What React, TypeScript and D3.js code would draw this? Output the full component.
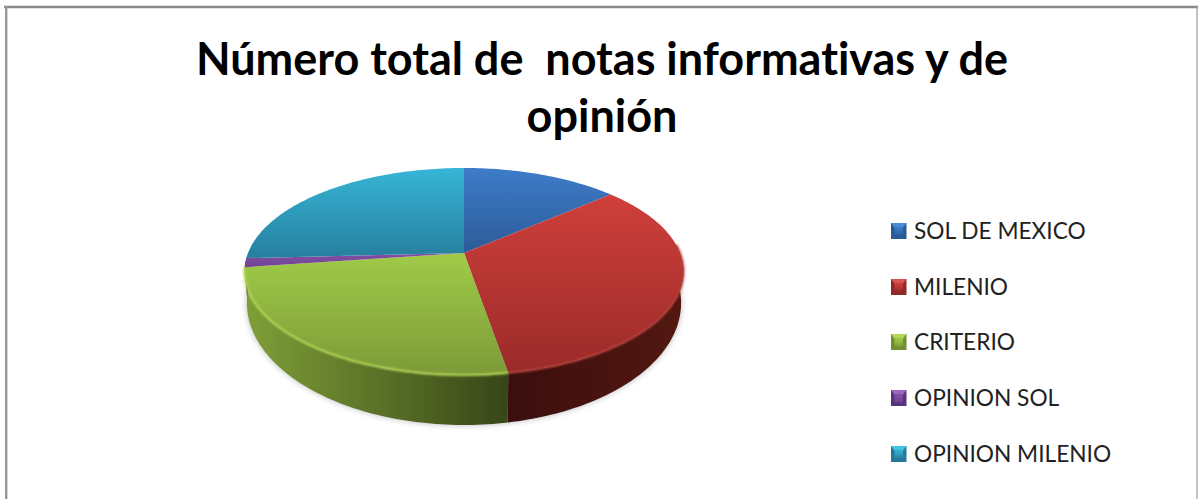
import React from "react";
import * as d3 from "d3";

const categories = ["SOL DE MEXICO", "MILENIO", "CRITERIO", "OPINION SOL", "OPINION MILENIO"];
const shares = [13.7, 33.6, 25.5, 1.4, 25.8];
const titleLines = ["Número total de  notas informativas y de", "opinión"];
const faceTop = ["#3e7cc9", "#cf3f3b", "#a0cb48", "#8550a8", "#36b5d6"];
const faceBottom = ["#2c5b98", "#9a2b29", "#7c9a38", "#6f4390", "#277f9e"];
const keyLight = ["#4a8ad6", "#d9534f", "#b4d95a", "#9a68be", "#45c4e2"];
const keyDark = ["#2a5a94", "#8e2a28", "#71902f", "#57357a", "#227a98"];
const wallOuter = ["#2c5b98", "#521711", "#7f9f38", "#5e3a78", "#277f9e"];
const wallInner = ["#2c5b98", "#3b0e0e", "#374617", "#5e3a78", "#277f9e"];
const legendY = [231, 287, 342, 398, 454];

const W = 1198;
const H = 499;
const TAU = Math.PI * 2;
const tilt = 0.1787;

// Perspective-tilted disc: the top rim and the lower rim have their own apex and spread.
const rimTop = { cx: 464, apex: 253, k: 216, a: 100.2 };
const rimLow = { cx: 464, apex: 281.3, k: 213.6, a: 118 };

type Rim = typeof rimTop;
const project = (rim: Rim, angle: number): [number, number] => {
  const u = Math.sin(angle);
  const v = -Math.cos(angle);
  const w = 1 - tilt * v;
  return [rim.cx + (rim.k * u) / w, rim.apex + (rim.a * v) / w];
};

const sampleArc = (rim: Rim, a0: number, a1: number): [number, number][] => {
  const n = Math.max(2, Math.ceil(Math.abs(a1 - a0) / 0.02));
  return d3.range(n + 1).map((i) => project(rim, a0 + ((a1 - a0) * i) / n));
};

const line = d3.line<[number, number]>().curve(d3.curveLinear);
const pie = d3.pie<number>().sort(null).startAngle(0).endAngle(TAU);
const slices = pie(shares);

// The wall is visible only along the near half of the disc.
const wallStart = (85 / 360) * TAU;
const wallEnd = (268 / 360) * TAU;

const fontStack = "Lato, 'Open Sans', sans-serif";

// Small pillow-style legend swatch: a lit top facet over a darker body.
function LegendKey({ y, index }: { y: number; index: number }) {
  const x0 = 891;
  const x1 = 906.5;
  const y0 = y - 8;
  const y1 = y + 8;
  const inset = 3.5;
  return (
    <g>
      <rect x={x0} y={y0} width={x1 - x0} height={y1 - y0} fill={keyDark[index]} />
      <polygon
        points={`${x0},${y0} ${x1},${y0} ${x1 - inset},${y0 + inset + 1} ${x0 + inset},${y0 + inset + 1}`}
        fill={keyLight[index]}
      />
      <rect
        x={x0 + inset}
        y={y0 + inset + 1}
        width={x1 - x0 - 2 * inset}
        height={y1 - y0 - 2 * inset - 1}
        fill={`url(#key${index})`}
      />
    </g>
  );
}

export default function App() {
  return (
    <svg
      width={W}
      height={H}
      viewBox={`0 0 ${W} ${H}`}
      style={{ position: "absolute", left: 0, top: 0, display: "block", background: "#fff" }}
    >
      <defs>
        <filter id="soft" x="-10%" y="-10%" width="120%" height="120%">
          <feGaussianBlur stdDeviation="3" />
        </filter>
        <filter id="rimGlow" x="-5%" y="-5%" width="110%" height="110%">
          <feGaussianBlur stdDeviation="0.9" />
        </filter>
        {slices.map((s, i) => {
          const pts = [[rimTop.cx, rimTop.apex] as [number, number], ...sampleArc(rimTop, s.startAngle, s.endAngle)];
          const ys = pts.map((p) => p[1]);
          return (
            <linearGradient
              key={i}
              id={`face${i}`}
              gradientUnits="userSpaceOnUse"
              x1={0}
              x2={0}
              y1={d3.min(ys)}
              y2={d3.max(ys)}
            >
              <stop offset="0" stopColor={faceTop[i]} />
              <stop offset="1" stopColor={faceBottom[i]} />
            </linearGradient>
          );
        })}
        {slices.map((s, i) => {
          const a0 = Math.max(s.startAngle, wallStart);
          const a1 = Math.min(s.endAngle, wallEnd);
          if (a1 <= a0) return null;
          const [xa] = project(rimTop, a0);
          const [xb] = project(rimTop, a1);
          const outerFirst = i === 1;
          return (
            <linearGradient key={i} id={`wall${i}`} gradientUnits="userSpaceOnUse" x1={xa} x2={xb} y1={0} y2={0}>
              <stop offset="0" stopColor={outerFirst ? wallOuter[i] : wallInner[i]} />
              <stop offset="1" stopColor={outerFirst ? wallInner[i] : wallOuter[i]} />
            </linearGradient>
          );
        })}
        {categories.map((_, i) => (
          <linearGradient key={i} id={`key${i}`} x1="0" x2="0" y1="0" y2="1">
            <stop offset="0" stopColor={faceTop[i]} />
            <stop offset="1" stopColor={faceBottom[i]} />
          </linearGradient>
        ))}
      </defs>

      {/* chart frame, open at the bottom */}
      <line x1={4} x2={1198} y1={7} y2={7} stroke="#888" strokeWidth={2.6} />
      <line x1={6.2} x2={6.2} y1={6} y2={499} stroke="#969696" strokeWidth={2.4} />
      <line x1={1197} x2={1197} y1={7} y2={499} stroke="#a8a8a8" strokeWidth={1.4} />

      <g
        fontFamily={fontStack}
        fontWeight={700}
        fontSize={45}
        fill="#000"
        textAnchor="middle"
        style={{ fontVariantLigatures: "none" }}
      >
        <text x={602} y={75} style={{ whiteSpace: "pre" }}>{titleLines[0]}</text>
        <text x={602} y={132}>{titleLines[1]}</text>
      </g>

      {/* soft shadow under the disc */}
      <path
        d={(line(sampleArc(rimLow, wallStart, wallEnd + 0.1)) ?? "") + "Z"}
        fill="#000"
        opacity={0.28}
        filter="url(#soft)"
      />

      {/* near walls */}
      {slices.map((s, i) => {
        const a0 = Math.max(s.startAngle, wallStart);
        const a1 = Math.min(s.endAngle, wallEnd);
        if (a1 <= a0) return null;
        const outline = [...sampleArc(rimTop, a0, a1), ...sampleArc(rimLow, a1, a0)];
        return <path key={i} d={(line(outline) ?? "") + "Z"} fill={`url(#wall${i})`} />;
      })}

      {/* top face */}
      {slices.map((s, i) => {
        const outline: [number, number][] = [
          [rimTop.cx, rimTop.apex],
          ...sampleArc(rimTop, s.startAngle, s.endAngle),
        ];
        return <path key={i} d={(line(outline) ?? "") + "Z"} fill={`url(#face${i})`} />;
      })}

      {/* bevel catching light along the near rim */}
      {slices.map((s, i) => {
        const a0 = Math.max(s.startAngle, wallStart);
        const a1 = Math.min(s.endAngle, wallEnd);
        if (a1 <= a0 || (i !== 1 && i !== 2)) return null;
        return (
          <path
            key={i}
            d={line(sampleArc(rimTop, a0, a1)) ?? ""}
            fill="none"
            stroke={i === 2 ? "#b6dc55" : "#b5403a"}
            strokeWidth={2}
            filter="url(#rimGlow)"
          />
        );
      })}

      {categories.map((c, i) => (
        <g key={c}>
          <LegendKey y={legendY[i]} index={i} />
          <text
            x={914}
            y={legendY[i] + 8}
            fontFamily={fontStack}
            fontSize={22.7}
            fill="#222"
            style={{ fontVariantLigatures: "none" }}
          >
            {c}
          </text>
        </g>
      ))}
    </svg>
  );
}
